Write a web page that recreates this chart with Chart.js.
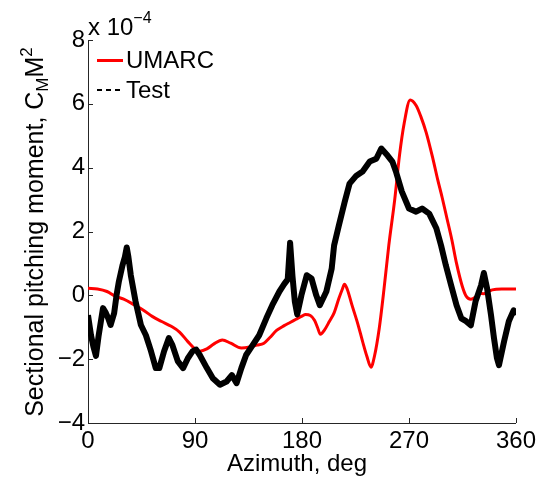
<!DOCTYPE html>
<html lang="en">
<head>
<meta charset="utf-8">
<title>Sectional pitching moment</title>
<script src="https://cdn.jsdelivr.net/npm/chart.js"></script>
<style>
  body { margin: 0; background: #fff; }
  canvas { display: block; }
</style>
</head>
<body>
<canvas id="pitchChart" width="540" height="481"></canvas>
<script>
// values are in units of 1e-4
const azimuthUmarc = [0, 8, 16, 23, 30, 39, 46, 54, 62, 70, 77, 84, 90, 94, 100, 106, 113, 120, 129, 136,
    142, 148, 153, 158.6, 165, 170, 175, 180, 183, 187, 190.5, 193, 195.5, 199, 203, 207, 211, 214, 215.7, 218,
    222, 227, 231, 234.5, 238, 241, 245, 249, 253, 258, 262, 266, 271, 276, 280, 284.5, 290, 294, 298, 302,
    306, 310, 314.7, 318, 322, 326, 329, 333, 336, 340, 348, 355, 360];
const umarcValues = [0.22, 0.2, 0.12, -0.03, -0.12, -0.3, -0.45, -0.66, -0.82, -0.97, -1.15, -1.45, -1.68, -1.75, -1.68, -1.52, -1.4, -1.5, -1.65, -1.62,
    -1.56, -1.5, -1.32, -1.1, -0.95, -0.85, -0.75, -0.65, -0.6, -0.63, -0.78, -1.0, -1.22, -1.08, -0.82, -0.55, -0.1, 0.2, 0.35, 0.2,
    -0.3, -0.9, -1.45, -1.9, -2.25, -1.9, -1.03, 0.2, 1.56, 3.0, 4.38, 5.4, 6.12, 5.95, 5.6, 5.1, 4.3, 3.65, 3.05, 2.4,
    1.75, 1.0, 0.3, -0.02, -0.12, -0.05, 0.06, 0.05, 0.1, 0.17, 0.2, 0.2, 0.2];

const azimuthTest = [0, 2.5, 4.5, 6.7, 9, 12.6, 15, 17, 19, 22, 24, 26, 29, 31, 32.6, 34, 36, 40, 44.5, 48.7,
    53, 57, 60, 64, 68, 71, 75.5, 80, 84, 88, 91, 94, 100, 105, 111, 116.6, 121, 125, 129, 133,
    138.5, 144, 150, 155, 161, 165, 168, 170, 172, 174, 176, 179.5, 184, 188, 192, 195, 200.5, 205, 207, 211,
    216, 220, 225.7, 231, 237, 242.5, 246.7, 252, 256, 259, 264, 270, 276, 281, 287, 293, 297, 301, 305.5, 310,
    314, 318, 322, 326, 330.6, 333, 335.7, 339, 341.5, 344, 345.7, 350, 354, 358, 360];
const testValues = [-0.62, -1.25, -1.6, -1.9, -1.25, -0.4, -0.55, -0.72, -0.93, -0.56, 0, 0.44, 0.94, 1.2, 1.5, 1.2, 0.63, -0.19, -0.93, -1.25,
    -1.75, -2.28, -2.28, -1.75, -1.34, -1.56, -2.06, -2.28, -1.97, -1.75, -1.7, -1.87, -2.28, -2.6, -2.8, -2.7, -2.5, -2.75, -2.28, -1.87,
    -1.56, -1.25, -0.72, -0.31, 0.12, 0.35, 0.5, 1.65, 0.6, -0.2, -0.6, 0, 0.63, 0.53, 0, -0.31, 0.12, 0.84, 1.56, 2.19,
    2.94, 3.5, 3.75, 3.88, 4.19, 4.28, 4.6, 4.38, 4.19, 3.88, 3.25, 2.72, 2.62, 2.72, 2.56, 2.1, 1.56, 0.94, 0.31, -0.31,
    -0.72, -0.81, -0.94, -0.19, 0.31, 0.7, 0.22, -0.62, -1.34, -1.97, -2.19, -1.44, -0.81, -0.47, -0.62];

const seriesNames = ['UMARC', 'Test'];
const xTicks = [0, 90, 180, 270, 360];
const yTicks = [-4, -2, 0, 2, 4, 6, 8];

const FONT = '"Liberation Sans", Arial, Helvetica, sans-serif';

function toPoints(xs, ys) {
    return xs.map((x, i) => ({ x: x, y: ys[i] }));
}

function drawRich(ctx, parts, x, y) {
    // parts: [text, size, dy]
    let cx = x;
    parts.forEach(([t, size, dy]) => {
        ctx.font = size + 'px ' + FONT;
        ctx.fillText(t, cx, y + dy);
        cx += ctx.measureText(t).width;
    });
    return cx - x;
}

function richWidth(ctx, parts) {
    let w = 0;
    parts.forEach(([t, size]) => {
        ctx.font = size + 'px ' + FONT;
        w += ctx.measureText(t).width;
    });
    return w;
}

const decorations = {
    id: 'decorations',
    afterDraw(chart) {
        const { ctx, chartArea: area, scales: { x, y } } = chart;
        ctx.save();

        // inward tick marks
        ctx.strokeStyle = '#262626';
        ctx.lineWidth = 1;
        ctx.beginPath();
        xTicks.forEach(v => {
            const px = Math.round(x.getPixelForValue(v)) + 0.5;
            ctx.moveTo(px, area.bottom);
            ctx.lineTo(px, area.bottom - 5);
        });
        yTicks.forEach(v => {
            const py = Math.round(y.getPixelForValue(v)) + 0.5;
            ctx.moveTo(area.left, py);
            ctx.lineTo(area.left + 5, py);
        });
        ctx.stroke();

        ctx.fillStyle = '#000';
        ctx.textBaseline = 'alphabetic';
        ctx.textAlign = 'left';

        // exponent label
        drawRich(ctx, [['x 10', 24, 0], ['\u22124', 16, -12]], 88, 35);

        // x title
        ctx.font = '24px ' + FONT;
        ctx.textAlign = 'center';
        ctx.fillText('Azimuth, deg', 297, 471);
        ctx.textAlign = 'left';

        // y title with sub/superscript
        const yParts = [['Sectional pitching moment, C', 25, 0], ['M', 17, 5], ['M', 25, 0], ['2', 17, -11]];
        const w = richWidth(ctx, yParts);
        ctx.save();
        ctx.translate(43, 232);
        ctx.rotate(-Math.PI / 2);
        drawRich(ctx, yParts, -w / 2, 0);
        ctx.restore();

        // legend
        ctx.lineCap = 'butt';
        ctx.strokeStyle = chart.data.datasets[0].borderColor;
        ctx.lineWidth = 3;
        ctx.beginPath();
        ctx.moveTo(97, 60.5);
        ctx.lineTo(123, 60.5);
        ctx.stroke();

        ctx.strokeStyle = '#000';
        ctx.lineWidth = 2;
        ctx.setLineDash([5, 4]);
        ctx.beginPath();
        ctx.moveTo(97, 90);
        ctx.lineTo(124, 90);
        ctx.stroke();
        ctx.setLineDash([]);

        ctx.font = '24px ' + FONT;
        ctx.textBaseline = 'middle';
        ctx.fillText(seriesNames[0], 126, 61);
        ctx.fillText(seriesNames[1], 126, 91);

        ctx.restore();
    }
};

const ctx = document.getElementById('pitchChart').getContext('2d');
new Chart(ctx, {
    type: 'line',
    data: {
        datasets: [
            {
                label: seriesNames[0],
                data: toPoints(azimuthUmarc, umarcValues),
                borderColor: '#ff0000',
                borderWidth: 3,
                pointRadius: 0,
                cubicInterpolationMode: 'monotone',
                fill: false,
                order: 1
            },
            {
                label: seriesNames[1],
                data: toPoints(azimuthTest, testValues),
                borderColor: '#000000',
                borderWidth: 6,
                borderJoinStyle: 'round',
                pointRadius: 0,
                tension: 0,
                fill: false,
                order: 0
            }
        ]
    },
    options: {
        responsive: false,
        animation: false,
        devicePixelRatio: 1,
        layout: { padding: { left: 0, top: 40, right: 23, bottom: 0 } },
        plugins: {
            legend: { display: false },
            tooltip: { enabled: false }
        },
        scales: {
            x: {
                type: 'linear',
                min: 0,
                max: 360,
                afterBuildTicks: s => { s.ticks = xTicks.map(v => ({ value: v })); },
                afterFit: s => { s.height = 58; },
                grid: { display: false, drawTicks: false },
                border: { display: true, color: '#262626', width: 1 },
                ticks: {
                    color: '#000',
                    padding: 4,
                    maxRotation: 0,
                    font: { family: FONT, size: 24 }
                }
            },
            y: {
                type: 'linear',
                min: -4,
                max: 8,
                afterBuildTicks: s => { s.ticks = yTicks.map(v => ({ value: v })); },
                afterFit: s => { s.width = 88; },
                grid: { display: false, drawTicks: false },
                border: { display: true, color: '#262626', width: 1 },
                ticks: {
                    color: '#000',
                    padding: 3,
                    font: { family: FONT, size: 24 },
                    callback: v => String(v).replace('-', '\u2212')
                }
            }
        }
    },
    plugins: [decorations]
});
</script>
</body>
</html>
